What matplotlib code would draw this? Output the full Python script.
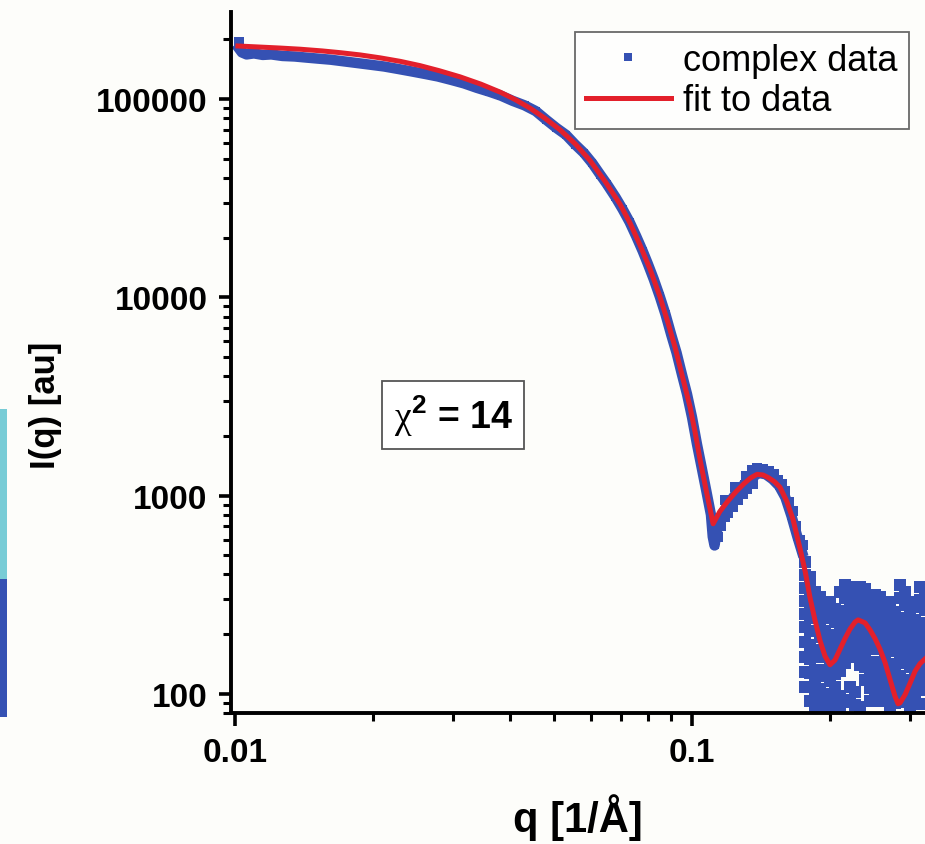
import numpy as np
import matplotlib
matplotlib.use('Agg')
import matplotlib.pyplot as plt
from matplotlib.ticker import NullFormatter
from matplotlib.patches import Rectangle

plt.rcParams['font.family'] = ['Liberation Sans', 'DejaVu Sans']
plt.rcParams['mathtext.fontset'] = 'custom'
plt.rcParams['mathtext.rm'] = 'Liberation Serif'
plt.rcParams['mathtext.bf'] = 'Liberation Sans:bold'

# fit curve
fit_q = [0.01015, 0.01134, 0.0125, 0.01388, 0.0155, 0.01697, 0.0188, 0.02076, 0.023,
         0.0254, 0.028, 0.03107, 0.0345, 0.03801, 0.041, 0.04421, 0.0475, 0.05142,
         0.0555, 0.05982, 0.0645, 0.06958, 0.0733, 0.0769, 0.081, 0.0851, 0.0885,
         0.0918, 0.0955, 0.099, 0.1015, 0.1041, 0.1075, 0.1112, 0.115, 0.1199, 0.125,
         0.13, 0.1345, 0.1388, 0.143, 0.147, 0.1515, 0.1558, 0.161, 0.1663, 0.1723,
         0.177, 0.1812, 0.1858, 0.1906, 0.1954, 0.2004, 0.2055, 0.2108, 0.2161,
         0.2216, 0.2273, 0.2308, 0.239, 0.2452, 0.2514, 0.2578, 0.2644, 0.2712,
         0.2781, 0.2824, 0.2852, 0.2925, 0.2999, 0.3076, 0.3154, 0.3235]
fit_i = [185300, 183000, 181000, 178500, 175000, 171500, 167000, 161500, 155000,
         147500, 139000, 129500, 119000, 108500, 99500, 90000, 80500, 70000,
         59500, 49000, 38500, 29500, 23500, 18400, 13800, 10050, 7500,
         5600, 3900, 2800, 2100, 1520, 1050, 720, 830, 940, 1050,
         1150, 1230, 1280, 1270, 1230, 1175, 1100, 940, 760, 540,
         410, 305, 235, 185, 155, 140, 148, 168, 190,
         212, 230, 236, 228, 210, 190, 168, 144, 118,
         97, 89, 90, 99, 113, 130, 142, 150]

# measured data, low-noise part
data_q = [0.0102, 0.01035, 0.0106, 0.011, 0.0115, 0.012, 0.0127, 0.0135, 0.0143,
          0.0152, 0.0162, 0.0173, 0.0185, 0.0198, 0.0212, 0.0227, 0.0243, 0.026,
          0.0278, 0.0297, 0.0317, 0.0338, 0.036, 0.0382, 0.0405, 0.043, 0.0455,
          0.048, 0.0505, 0.053, 0.0555, 0.058, 0.0605, 0.063, 0.065, 0.068,
          0.0705, 0.073, 0.0755, 0.078, 0.08, 0.0825, 0.085, 0.0875, 0.09,
          0.0925, 0.095, 0.0975, 0.1, 0.1025, 0.105, 0.1075, 0.11, 0.111,
          0.112, 0.113, 0.115, 0.118, 0.121, 0.125, 0.13, 0.135, 0.14, 0.145,
          0.15, 0.155, 0.16, 0.165, 0.17, 0.174]
data_i = [180000, 172000, 168000, 170000, 167000, 168000, 165000, 164000, 162000,
          160000, 158000, 155000, 152000, 149000, 146000, 142000, 138000, 134000,
          130000, 125000, 120000, 114000, 109000, 104000, 98000, 93000, 87000,
          78500, 71500, 66000, 59000, 53500, 47500, 41500, 37500, 32000,
          27800, 24000, 20300, 17100, 14800, 12300, 10100, 8200, 6500,
          5250, 4100, 3250, 2480, 1820, 1380, 1050, 800, 620,
          560, 640, 760, 850, 930, 1030, 1140, 1230, 1300, 1280,
          1210, 1120, 980, 790, 620, 520]

# scattered points around the first minimum and the bump
bump_q = [0.0102, 0.1105, 0.1115, 0.1125, 0.114, 0.116, 0.118, 0.12, 0.123, 0.126,
          0.129, 0.132, 0.136, 0.139, 0.143, 0.147, 0.151, 0.154, 0.157, 0.16,
          0.163, 0.166, 0.169, 0.172, 0.1745, 0.118, 0.124, 0.131, 0.135]
bump_i = [194000, 700, 600, 690, 620, 700, 780, 820, 880, 950,
          1020, 1080, 1150, 1380, 1360, 1330, 1280, 1200, 1140, 1060,
          930, 840, 700, 600, 560, 950, 1100, 1250, 1340]

# noisy tail: intensities measured at each q
tail_q = [0.1767, 0.1812, 0.1858, 0.1906, 0.1954, 0.2004, 0.2055, 0.2108, 0.2161,
          0.2216, 0.2273, 0.2331, 0.2390, 0.2452, 0.2514, 0.2578, 0.2644, 0.2712,
          0.2781, 0.2852, 0.2925, 0.2999, 0.3076, 0.3154, 0.3235]
tail_i = [
    [463, 398, 342, 294, 253, 218, 183, 154, 129, 108],
    [389, 338, 290, 245, 208, 176, 150, 128, 108, 92],
    [327, 281, 242, 208, 154, 132, 114, 98, 84],
    [309, 264, 228, 194, 166, 123, 106, 91],
    [281, 242, 208, 179, 154, 132, 98, 84],
    [291, 251, 183, 157, 135, 116, 100, 86],
    [268, 231, 198, 171, 147, 126, 108, 93],
    [327, 240, 205, 176, 152, 131, 97, 84],
    [355, 306, 262, 226, 194, 167, 143, 91],
    [346, 298, 256, 220, 189, 163, 108, 93],
    [327, 281, 242, 208, 179, 154, 102, 88],
    [346, 298, 256, 220, 189, 163, 140, 86],
    [338, 291, 251, 215, 185, 159, 137, 118],
    [309, 264, 228, 196, 169, 145, 125, 107, 92],
    [316, 272, 234, 201, 173, 128, 110, 94],
    [309, 264, 228, 196, 169, 145, 125, 107, 92],
    [275, 237, 203, 173, 150, 129, 110, 95],
    [291, 251, 215, 185, 137, 118, 101, 87],
    [259, 223, 191, 165, 142, 122, 105, 90],
    [355, 306, 226, 194, 167, 143, 123, 106, 91],
    [327, 281, 242, 208, 179, 154, 114, 98],
    [291, 251, 215, 185, 159, 137, 118, 101, 87],
    [275, 237, 203, 173, 150, 129, 110, 95],
    [346, 298, 220, 189, 163, 140, 120, 104, 89],
    [309, 264, 228, 196, 169, 145, 125, 107],
]

x_major = [0.01, 0.1]
x_labels = ['0.01', '0.1']
x_minor = [0.02, 0.03, 0.04, 0.05, 0.06, 0.07, 0.08, 0.09, 0.2, 0.3]
y_major = [100, 1000, 10000, 100000]
y_labels = ['100', '1000', '10000', '100000']

blue = '#3551b3'
red = '#e3202b'
bg = '#fdfdfa'

W, H = 925, 845
fig = plt.figure(figsize=(W / 100, H / 100), dpi=100)
fig.patch.set_facecolor(bg)
ax = fig.add_axes([231 / W, 1 - 714 / H, 1 - 231 / W, 701 / H])
ax.set_facecolor(bg)
ax.set_xscale('log')
ax.set_yscale('log')
ax.set_xlim(0.0098, 0.3234)
ax.set_ylim(80, 275000)

tq = np.repeat(tail_q, [len(c) for c in tail_i])
ti = np.concatenate([np.array(c, float) for c in tail_i])

ax.plot(data_q, data_i, '-', color=blue, lw=7.5, zorder=2)
ax.plot(data_q, data_i, 's', color=blue, ms=5.5, mew=0, zorder=2)
ax.plot(bump_q, bump_i, 's', color=blue, ms=6.5, mew=0, ls='none', zorder=2)
ax.plot(tq, ti, 's', color=blue, ms=8.5, mew=0, ls='none', zorder=2)
pts, = ax.plot([], [], 's', color=blue, ms=5.5, mew=0, ls='none', label='complex data')
fitl, = ax.plot(fit_q, fit_i, color=red, lw=3.6, zorder=4, label='fit to data')

ax.set_xticks(x_major, labels=x_labels, fontsize=24, fontweight='bold')
ax.set_xticks(x_minor, minor=True)
ax.set_yticks(y_major, labels=y_labels, fontsize=24, fontweight='bold')
y_minor = [m * 10 ** k for k in range(1, 6) for m in range(2, 10)
           if 80 <= m * 10 ** k <= 275000]
ax.set_yticks(y_minor, minor=True)
ax.xaxis.set_minor_formatter(NullFormatter())
ax.yaxis.set_minor_formatter(NullFormatter())
ax.tick_params(which='major', direction='out', length=9, width=2.6, pad=8)
ax.tick_params(which='minor', direction='out', length=6, width=2.2)

for s in ['top', 'right']:
    ax.spines[s].set_visible(False)
for s in ['left', 'bottom']:
    ax.spines[s].set_linewidth(2.8)

leg = ax.legend(handles=[pts, fitl], loc='upper left',
                bbox_to_anchor=(575 / W, 1 - 33 / H), bbox_transform=fig.transFigure,
                fontsize=26, frameon=True, fancybox=False, borderaxespad=0,
                borderpad=0.3, handlelength=2.35, handletextpad=0.35,
                labelspacing=0.15)
leg.get_frame().set_edgecolor('#444444')
leg.get_frame().set_linewidth(1.3)
leg.get_frame().set_facecolor('white')

ax.text(0.320, 0.425, r'$\mathrm{\chi}^{\mathbf{2}}$ = 14', transform=ax.transAxes,
        ha='center', va='center', fontsize=27, fontweight='bold',
        bbox=dict(boxstyle='square,pad=0.3', fc='white', ec='#555555', lw=1.3))

fig.text(578 / W, 1 - 832 / H, 'q [1/Å]', ha='center', va='baseline',
         fontsize=30, fontweight='bold')
fig.text(45 / W, 1 - 405 / H, 'I(q) [au]', rotation=90, ha='center', va='center',
         fontsize=25, fontweight='bold')

# strip of the neighbouring panel at the left edge
fig.add_artist(Rectangle((0, 1 - 580 / H), 7 / W, 170 / H, transform=fig.transFigure,
                         color='#78ccd6', lw=0))
fig.add_artist(Rectangle((0, 1 - 718 / H), 7 / W, 138 / H, transform=fig.transFigure,
                         color=blue, lw=0))

fig.savefig('out.png', dpi=100, facecolor=bg)
